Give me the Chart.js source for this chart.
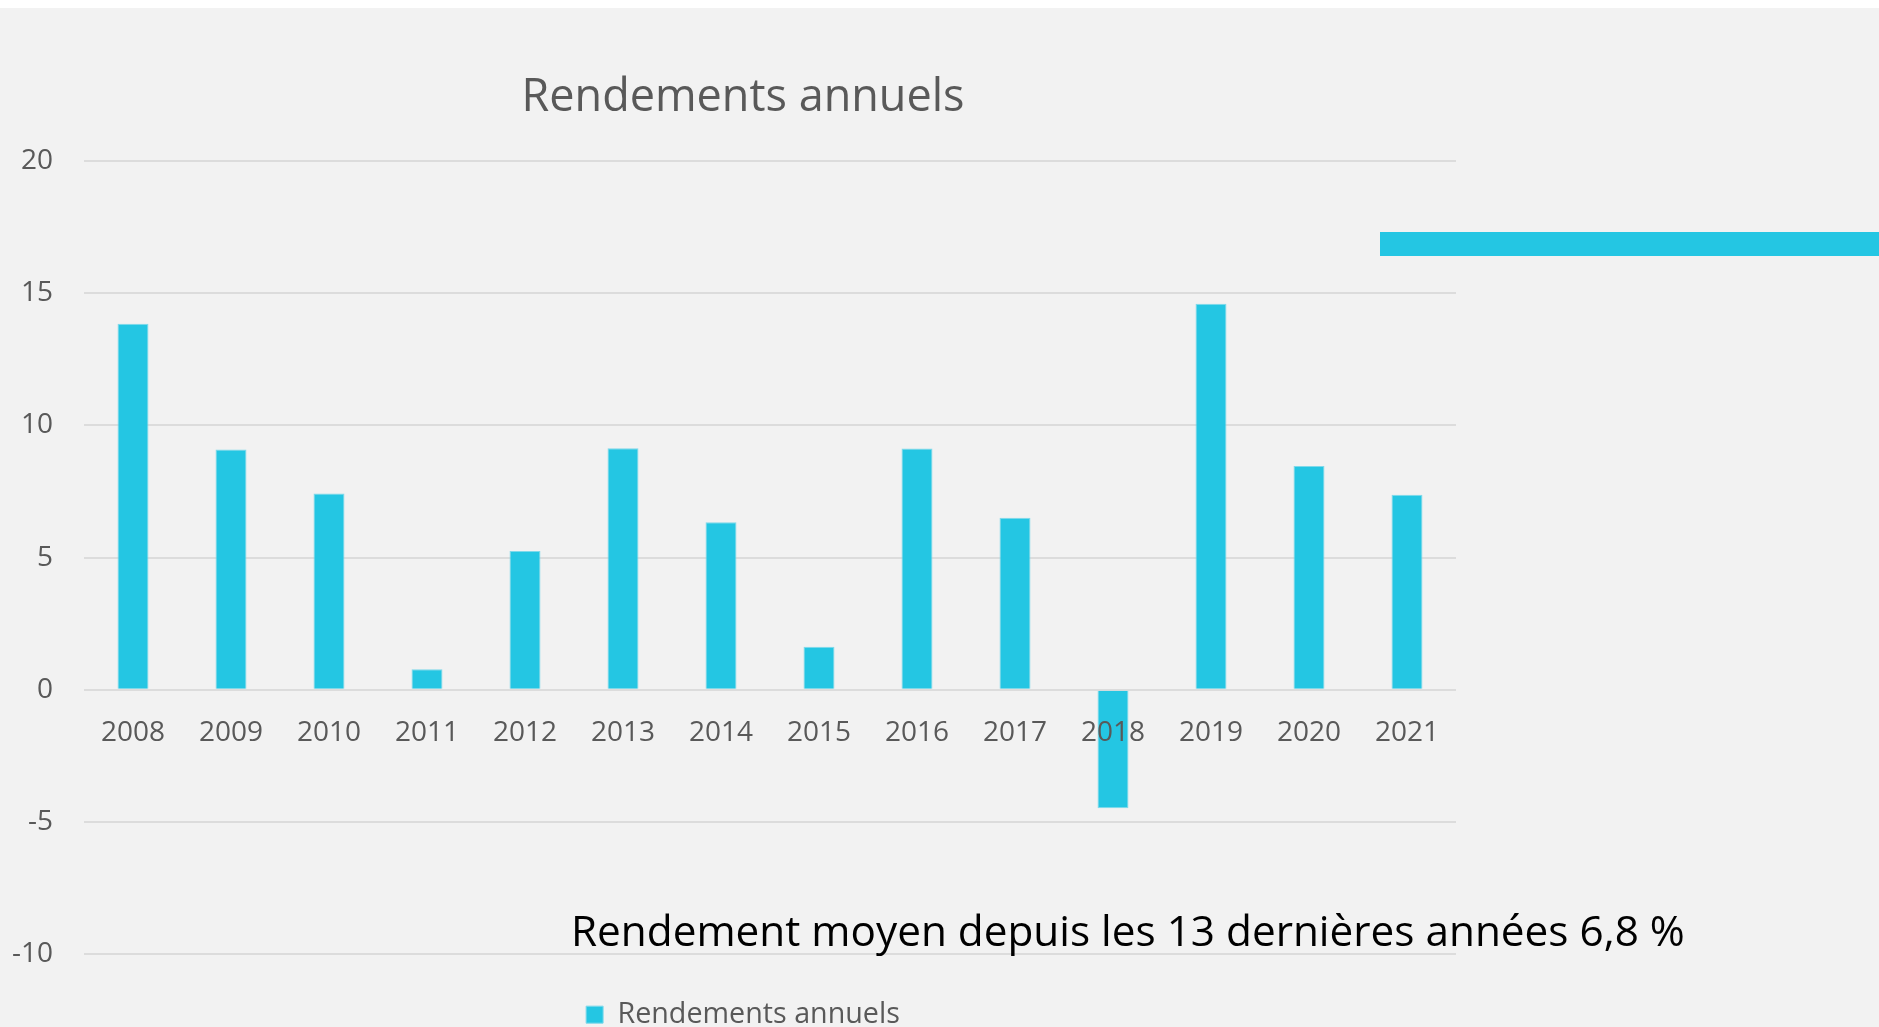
<!DOCTYPE html>
<html lang="fr">

<head>
    <meta charset="UTF-8">
    <title>Rendements annuels</title>
    <script src="https://cdn.jsdelivr.net/npm/chart.js"></script>
    <style>
        html, body { margin: 0; padding: 0; background: #ffffff; overflow: hidden; }
        #fond {
            position: absolute; left: 0; top: 8px; width: 1879px; height: 1019px;
            background: #f2f2f2; overflow: hidden;
        }
        #zoneGraph { position: absolute; left: 0; top: 0; width: 1490px; height: 1031px; }
        #trait {
            position: absolute; left: 1380px; top: 224px; width: 499px; height: 24px;
            background: #24c6e3;
        }
        #moyenne {
            position: absolute; left: 571px; top: 901px; margin: 0;
            font-family: "Open Sans", sans-serif; font-size: 42.3px; line-height: 42px;
            color: #000000; white-space: nowrap;
        }
    </style>
</head>

<body>
    <div id="fond">
        <div id="zoneGraph"><canvas id="rendements"></canvas></div>
        <div id="trait"></div>
        <p id="moyenne">Rendement moyen depuis les 13 dernières années 6,8 %</p>
    </div>

    <script>
        // années et rendements (%)
        const annees = ["2008", "2009", "2010", "2011", "2012", "2013", "2014", "2015", "2016", "2017", "2018", "2019", "2020", "2021"];
        const rendements = [13.85, 9.09, 7.43, 0.78, 5.25, 9.14, 6.34, 1.63, 9.13, 6.51, -4.48, 14.6, 8.47, 7.38];
        const axeY = [-10, -5, 0, 5, 10, 15, 20];

        const cyan = '#24c6e3';
        const gris = '#595959';
        const police = '"Open Sans", sans-serif';

        const ctx = document.getElementById('rendements').getContext('2d');
        new Chart(ctx, {
            type: 'bar',
            data: {
                labels: annees,
                datasets: [{
                    label: 'Rendements annuels',
                    data: rendements,
                    backgroundColor: cyan,
                    borderColor: '#7fd9ea',
                    borderWidth: 1,
                    categoryPercentage: 0.316,
                    barPercentage: 1
                }]
            },
            options: {
                responsive: true,
                maintainAspectRatio: false,
                animation: false,
                layout: { padding: { left: 30, right: 34, top: 0, bottom: 0 } },
                plugins: {
                    title: {
                        display: true,
                        text: 'Rendements annuels',
                        color: gris,
                        font: { family: police, size: 45, weight: 'normal' },
                        padding: { top: 63, bottom: 36 }
                    },
                    legend: {
                        position: 'bottom',
                        labels: {
                            color: gris,
                            font: { family: police, size: 28.7 },
                            boxWidth: 17,
                            boxHeight: 17,
                            padding: 46
                        }
                    },
                    tooltip: { enabled: false }
                },
                scales: {
                    x: {
                        position: { y: 0 },
                        grid: { display: false },
                        border: { display: false },
                        ticks: {
                            color: gris,
                            font: { family: police, size: 28 },
                            padding: 18,
                            z: 1
                        }
                    },
                    y: {
                        min: axeY[0],
                        max: axeY[axeY.length - 1],
                        afterBuildTicks: (axis) => { axis.ticks = axeY.map(v => ({ value: v })); },
                        afterFit: (axis) => {
                            axis.width = 54;
                            // les étiquettes débordent à gauche de la boîte de l'axe : pas de découpe
                            axis._computeLabelArea = () => undefined;
                        },
                        grid: { color: '#dcdcdc', lineWidth: 2, drawTicks: false },
                        border: { display: false },
                        ticks: {
                            color: gris,
                            font: { family: police, size: 28 },
                            padding: 31,
                            callback: (v) => String(v)
                        }
                    }
                }
            }
        });
    </script>
</body>

</html>
